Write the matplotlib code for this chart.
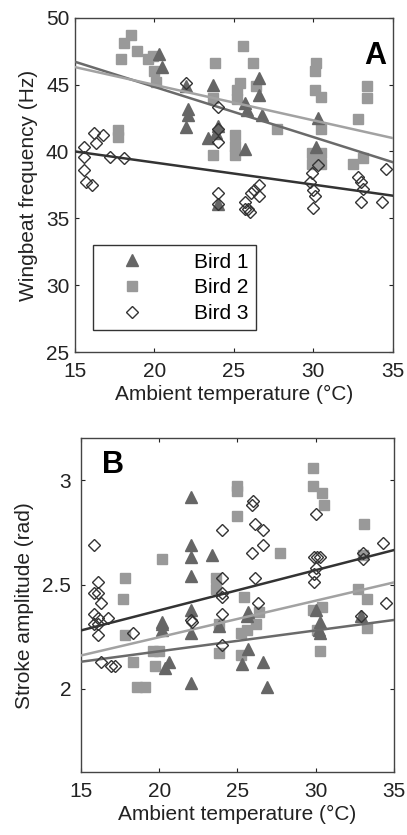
import matplotlib
matplotlib.use('Agg')
import matplotlib.pyplot as plt
import numpy as np

plt.rcParams['font.family'] = ['Liberation Sans', 'DejaVu Sans']

# panel A: wingbeat frequency (Hz) vs ambient temperature
a1_t = [20.3, 20.5, 22.0, 22.1, 22.1, 22.0, 23.7, 23.4, 24.0, 23.9, 25.7, 25.8, 25.7,
        26.6, 26.6, 26.8, 30.3, 30.2, 24.0]
a1_f = [47.3, 46.3, 44.9, 43.2, 42.7, 41.8, 45.0, 41.0, 41.9, 41.4, 43.6, 43.1, 40.2,
        45.5, 44.2, 42.7, 42.5, 40.3, 36.1]
a2_t = [18.5, 18.1, 17.9, 18.9, 19.6, 19.9, 20.0, 20.1, 17.7, 17.7, 23.8, 23.7, 23.7,
        25.6, 26.2, 25.4, 25.2, 25.2, 25.1, 25.1, 25.1, 26.4, 27.7, 30.2, 30.1, 30.1,
        30.5, 30.5, 29.9, 29.9, 30.5, 30.5, 33.4, 33.4, 32.8, 32.5, 33.1]
a2_f = [48.7, 48.1, 46.9, 47.5, 46.9, 47.1, 46.0, 45.2, 41.6, 41.1, 46.6, 44.0, 39.7,
        47.9, 46.6, 45.1, 44.6, 43.9, 41.2, 40.4, 39.7, 44.9, 41.7, 46.6, 46.0, 44.6,
        44.1, 41.7, 39.9, 39.1, 39.9, 39.1, 44.9, 44.0, 42.4, 39.1, 39.5]
a3_t = [22.0, 24.0, 24.0, 24.0, 16.2, 16.8, 15.6, 16.3, 17.2, 18.1, 15.6, 15.6, 15.7,
        16.1, 24.0, 24.0, 26.6, 26.3, 26.1, 26.6, 25.7, 25.9, 26.0, 25.7, 30.3, 29.9,
        29.8, 30.0, 30.1, 30.0, 32.8, 33.0, 33.1, 33.0, 34.3, 34.6]
a3_f = [45.1, 43.3, 41.7, 40.7, 41.4, 41.2, 40.3, 40.6, 39.6, 39.5, 39.6, 38.6, 37.7,
        37.5, 36.9, 36.1, 37.5, 37.1, 36.9, 36.7, 36.2, 35.7, 35.5, 35.7, 39.0, 38.4,
        37.7, 37.1, 36.7, 35.8, 38.1, 37.7, 37.2, 36.2, 36.2, 38.7]
# fitted lines, values at 15 and 35 degC (bird 1, bird 2, bird 3)
fitA = [[46.7, 39.2], [46.3, 41.0], [40.0, 36.7]]

# panel B: stroke amplitude (rad) vs ambient temperature
b1_t = [22.0, 22.0, 22.0, 22.0, 23.4, 22.0, 20.2, 25.7, 30.0, 30.3, 20.2, 20.2, 22.0,
        20.6, 20.4, 22.0, 25.7, 25.3, 26.6, 26.9, 25.6, 30.2, 30.3, 32.9, 23.8]
b1_a = [2.92, 2.69, 2.63, 2.54, 2.64, 2.38, 2.32, 2.37, 2.38, 2.32, 2.31, 2.28, 2.27,
        2.13, 2.10, 2.03, 2.19, 2.12, 2.13, 2.01, 2.35, 2.28, 2.27, 2.35, 2.30]
b2_t = [29.8, 29.8, 30.4, 30.5, 25.0, 25.0, 25.0, 27.7, 33.1, 33.0, 20.2, 17.8, 17.7,
        23.6, 23.6, 25.4, 32.7, 33.3, 30.4, 29.8, 17.8, 18.3, 18.6, 19.1, 19.6, 20.0,
        19.7, 23.8, 23.8, 25.2, 25.6, 26.2, 30.1, 30.3, 33.3, 26.4, 25.2]
b2_a = [3.06, 2.97, 2.94, 2.88, 2.97, 2.95, 2.83, 2.65, 2.79, 2.64, 2.62, 2.53, 2.43,
        2.53, 2.48, 2.44, 2.48, 2.43, 2.39, 2.38, 2.26, 2.13, 2.01, 2.01, 2.18, 2.18,
        2.11, 2.31, 2.17, 2.27, 2.28, 2.31, 2.28, 2.18, 2.29, 2.37, 2.16]
b3_t = [15.8, 16.1, 15.8, 16.1, 16.3, 15.8, 16.1, 16.7, 24.0, 25.9, 26.0, 26.1, 26.6,
        26.6, 25.9, 26.1, 24.0, 24.0, 24.0, 26.3, 24.0, 22.0, 30.0, 29.9, 30.1, 30.3,
        30.0, 29.9, 29.9, 34.3, 33.0, 33.0, 34.5, 16.1, 16.1, 18.3, 16.3, 16.9, 17.2,
        24.0, 22.1, 15.8, 32.9]
b3_a = [2.69, 2.51, 2.46, 2.46, 2.41, 2.36, 2.34, 2.34, 2.76, 2.88, 2.90, 2.79, 2.76,
        2.69, 2.65, 2.53, 2.53, 2.46, 2.44, 2.41, 2.36, 2.33, 2.84, 2.63, 2.63, 2.63,
        2.58, 2.55, 2.51, 2.70, 2.65, 2.62, 2.41, 2.31, 2.26, 2.27, 2.13, 2.11, 2.11,
        2.21, 2.32, 2.31, 2.35]
fitB = [[2.13, 2.33], [2.16, 2.51], [2.28, 2.665]]

fit_t = [15, 35]
dark = '#666666'
light = '#999999'
line_cols = ['#6a6a6a', '#a2a2a2', '#333333']
fs = 15

fig = plt.figure(figsize=(4.07, 8.35), dpi=100)
axA = fig.add_axes([0.184, 0.578, 0.781, 0.401])
axB = fig.add_axes([0.199, 0.075, 0.769, 0.400])


def style(ax, ypad):
    ax.tick_params(direction='in', top=True, right=True, length=3, width=0.8,
                   labelsize=fs, colors='#222222')
    ax.tick_params(axis='x', pad=7)
    ax.tick_params(axis='y', pad=ypad)
    for s in ax.spines.values():
        s.set_color('#444444')
        s.set_linewidth(1.0)
    ax.set_xlim(15, 35)
    ax.set_xticks([15, 20, 25, 30, 35])
    ax.set_xlabel('Ambient temperature (°C)', fontsize=fs, color='#222222', labelpad=3)


def draw(ax, d1, d2, d3, fits):
    for (y0, y1), c in zip(fits, line_cols):
        ax.plot(fit_t, [y0, y1], color=c, lw=1.8, zorder=3)
    ax.plot(d2[0], d2[1], ls='none', marker='s', ms=6.8, mfc=light, mec=light,
            label='Bird 2', zorder=2)
    ax.plot(d1[0], d1[1], ls='none', marker='^', ms=8, mfc=dark, mec=dark,
            label='Bird 1', zorder=2)
    ax.plot(d3[0], d3[1], ls='none', marker='D', ms=6, mfc='none', mec='#333333',
            mew=1.0, label='Bird 3', zorder=4)


draw(axA, (a1_t, a1_f), (a2_t, a2_f), (a3_t, a3_f), fitA)
style(axA, 4)
axA.set_ylim(25, 50)
axA.set_yticks([25, 30, 35, 40, 45, 50])
axA.set_ylabel('Wingbeat frequency (Hz)', fontsize=fs, color='#222222', labelpad=6)
axA.text(0.981, 0.884, 'A', transform=axA.transAxes, ha='right', va='center',
         fontsize=22, fontweight='bold')
h, l = axA.get_legend_handles_labels()
order = [1, 0, 2]
leg = axA.legend([h[i] for i in order], [l[i] for i in order], loc='lower left',
                 bbox_to_anchor=(0.025, 0.035), fontsize=fs, fancybox=False,
                 edgecolor='#333333', framealpha=1, handletextpad=1.5,
                 borderpad=0.35, labelspacing=0.32, handlelength=3.0)
leg.get_frame().set_linewidth(1.0)

draw(axB, (b1_t, b1_a), (b2_t, b2_a), (b3_t, b3_a), fitB)
style(axB, 7)
axB.set_ylim(1.6, 3.2)
axB.set_yticks([2, 2.5, 3])
axB.set_yticklabels(['2', '2.5', '3'])
axB.set_ylabel('Stroke amplitude (rad)', fontsize=fs, color='#222222', labelpad=6)
axB.text(0.067, 0.92, 'B', transform=axB.transAxes, ha='left', va='center',
         fontsize=22, fontweight='bold')

fig.savefig('out.png', dpi=100)
